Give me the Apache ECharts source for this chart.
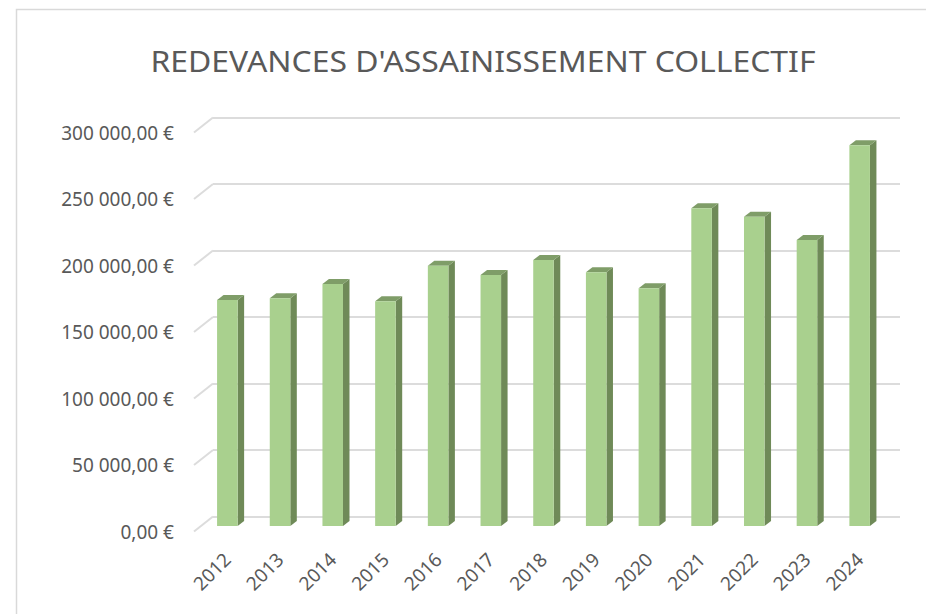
<!DOCTYPE html>
<html><head><meta charset="utf-8">
<script src="https://cdn.jsdelivr.net/npm/echarts@6/dist/echarts.min.js"></script>
<style>html,body{margin:0;padding:0;background:#fff}#c{width:926px;height:614px}</style>
</head><body><div id="c"></div>
<script>
const chartTitle = "REDEVANCES D'ASSAINISSEMENT COLLECTIF";
const years = ['2012','2013','2014','2015','2016','2017','2018','2019','2020','2021','2022','2023','2024'];
const redevances = [170000, 171200, 182000, 169000, 195700, 188800, 200000, 190700, 178700, 239000, 232500, 215000, 286300];
const yTicks = [0, 50000, 100000, 150000, 200000, 250000, 300000];

const FONT = '"Noto Sans", sans-serif';
const TEXT = '#595959';
const GRID = '#dcdcdc';
const FRONT = '#a9d08e', SIDE = '#6f8a58', TOPC = '#7f9d68';
const DX = 19, DY = 15;      // floor depth (front plane -> back wall)
const BDX = 6.5, BDY = 5;    // bar depth

function euro(v) {
  const s = Math.round(v).toString().replace(/\B(?=(\d{3})+(?!\d))/g, ' ');
  return s + ',00 €';
}

const yMin = yTicks[0], yMax = yTicks[yTicks.length - 1], yStep = yTicks[1] - yTicks[0];

const chart = echarts.init(document.getElementById('c'), null, {renderer: 'svg'});
chart.setOption({
  animation: false,
  backgroundColor: '#fff',
  graphic: [
    {type: 'polyline', shape: {points: [[16.5, 700], [16.5, 9.5], [1000, 9.5]]},
     style: {fill: 'none', stroke: '#d9d9d9', lineWidth: 1.5}, silent: true},
    {type: 'text', x: 483, y: 61, scaleX: 1.1,
     style: {text: chartTitle, font: '29px ' + FONT, fill: TEXT, align: 'center', verticalAlign: 'middle'}}
  ],
  grid: [
    {left: 201, top: 127, width: 685, height: 399},     // bars plane
    {left: 213, top: 117.5, width: 687, height: 399},   // back wall
    {left: 194, top: 132.5, width: 687, height: 399}    // front plane (labels)
  ],
  xAxis: [
    {gridIndex: 0, type: 'category', data: years,
     axisLine: {show: false}, axisTick: {show: false},
     axisLabel: {rotate: 45, margin: 30, color: TEXT, fontSize: 19, fontFamily: FONT}},
    {gridIndex: 1, type: 'category', data: years, show: false},
    {gridIndex: 2, type: 'value', min: 0, max: 1, show: false}
  ],
  yAxis: [
    {gridIndex: 0, type: 'value', min: yMin, max: yMax, interval: yStep, show: false},
    {gridIndex: 1, type: 'value', min: yMin, max: yMax, interval: yStep,
     axisLine: {show: false}, axisTick: {show: false}, axisLabel: {show: false},
     splitLine: {lineStyle: {color: GRID, width: 2}}},
    {gridIndex: 2, type: 'value', min: yMin, max: yMax, interval: yStep,
     axisLine: {show: false}, axisTick: {show: false}, splitLine: {show: false},
     axisLabel: {margin: 20, color: TEXT, fontSize: 19, fontFamily: FONT, formatter: euro}}
  ],
  series: [
    {
      type: 'custom', xAxisIndex: 2, yAxisIndex: 2, silent: true,
      data: yTicks.map(v => [0, v]),
      renderItem: function (params, api) {
        const p = api.coord([api.value(0), api.value(1)]);
        return {type: 'line', shape: {x1: p[0], y1: p[1], x2: p[0] + DX, y2: p[1] - DY},
                style: {stroke: GRID, lineWidth: 2}};
      }
    },
    {
      type: 'custom', xAxisIndex: 0, yAxisIndex: 0,
      data: redevances.map((v, i) => [i, v]),
      renderItem: function (params, api) {
        const i = api.value(0), v = api.value(1);
        const top = api.coord([i, v]);
        const base = api.coord([i, 0]);
        const bw = api.size([1, 0])[0] * 0.39;
        const x0 = top[0] - bw / 2, x1 = top[0] + bw / 2;
        const yt = top[1], yb = base[1];
        return {type: 'group', children: [
          {type: 'polygon', shape: {points: [[x1, yt], [x1 + BDX, yt - BDY], [x1 + BDX, yb - BDY], [x1, yb]]},
           style: {fill: SIDE}},
          {type: 'polygon', shape: {points: [[x0, yt], [x1, yt], [x1 + BDX, yt - BDY], [x0 + BDX, yt - BDY]]},
           style: {fill: TOPC}},
          {type: 'rect', shape: {x: x0, y: yt, width: bw, height: yb - yt},
           style: {fill: FRONT}}
        ]};
      }
    }
  ]
});
</script>
</body></html>
